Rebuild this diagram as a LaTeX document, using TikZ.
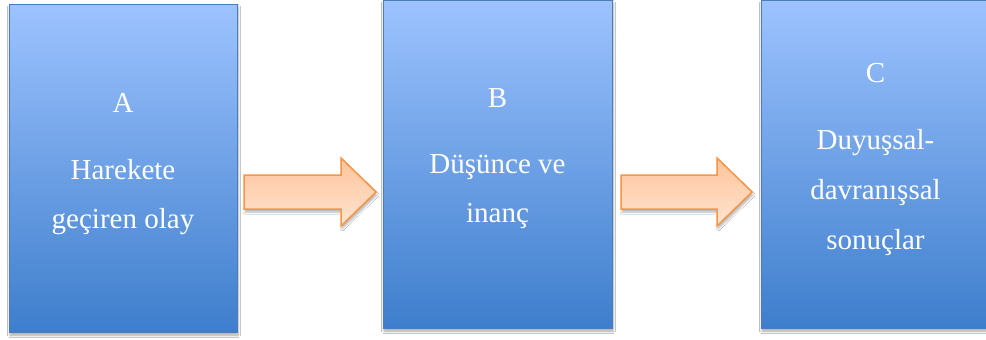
\documentclass[tikz,border=0pt]{standalone}
\usepackage{fontspec}
\setmainfont{Liberation Serif}
\usetikzlibrary{shadows.blur}
\definecolor{boxtop}{RGB}{157,195,255}
\definecolor{boxbot}{RGB}{62,126,204}
\definecolor{boxline}{RGB}{74,126,187}
\definecolor{arrtop}{RGB}{253,196,155}
\definecolor{arrbot}{RGB}{255,228,208}
\definecolor{arrline}{RGB}{247,150,70}
\tikzset{
  stagebox/.style={rectangle, draw=boxline, line width=1pt, inner sep=0pt,
    top color=boxtop, bottom color=boxbot,
    blur shadow={shadow xshift=1pt, shadow yshift=-3pt, shadow opacity=35, shadow blur steps=6, shadow blur radius=2.5pt}},
  stagetext/.style={anchor=base, text=white, font=\fontsize{29pt}{34pt}\selectfont, inner sep=0pt},
  flowarrow/.style={draw=arrline, line width=1.5pt, line join=miter,
    top color=arrtop, bottom color=arrbot,
    blur shadow={shadow xshift=1pt, shadow yshift=-3pt, shadow opacity=30, shadow blur steps=6, shadow blur radius=2pt}}
}
\begin{document}
\begin{tikzpicture}[x=1pt, y=-1pt]
  \useasboundingbox[fill=white] (0,0) rectangle (986,340);

  % the three stages
  \node[stagebox, minimum width=228pt, minimum height=328pt] (A) at (123,168) {};
  \node[stagebox, minimum width=229pt, minimum height=328pt] (B) at (497.5,164) {};
  \node[stagebox, minimum width=229pt, minimum height=328pt] (C) at (875.5,164) {};

  % labels
  \node[stagetext] (a1) at (123,112) {A};
  \node[stagetext] (a2) at (123,179) {Harekete};
  \node[stagetext] (a3) at (123,228) {geçiren olay};

  \node[stagetext] (b1) at (497.5,107) {B};
  \node[stagetext] (b2) at (497.5,173) {Düşünce ve};
  \node[stagetext] (b3) at (497.5,222) {inanç};

  \node[stagetext] (c1) at (875.5,82) {C};
  \node[stagetext] (c2) at (875.5,149) {Duyuşsal-};
  \node[stagetext] (c3) at (875.5,199) {davranışsal};
  \node[stagetext] (c4) at (875.5,249) {sonuçlar};

  % block arrows between the stages
  \draw[flowarrow] (244,175) -- (341,175) -- (341,158) -- (376,192)
    -- (341,226) -- (341,209) -- (244,209) -- cycle;
  \draw[flowarrow] (621,175) -- (717,175) -- (717,158) -- (752,192)
    -- (717,226) -- (717,209) -- (621,209) -- cycle;
\end{tikzpicture}
\end{document}
